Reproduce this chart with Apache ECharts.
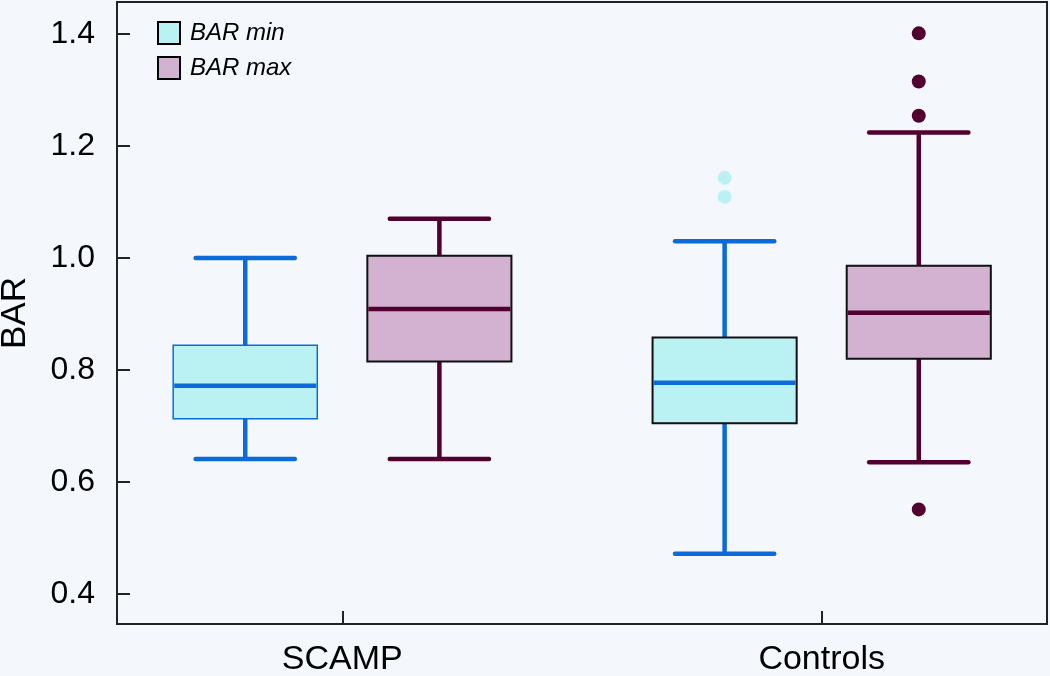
<!DOCTYPE html>
<html>
<head>
<meta charset="utf-8">
<script src="https://cdn.jsdelivr.net/npm/echarts@6/dist/echarts.min.js"></script>
<style>
html,body{margin:0;padding:0;background:#F4F7FB;}
#chart{width:1050px;height:676px;}
</style>
</head>
<body>
<div id="chart"></div>
<script>
// ---- data ----
const categories = ['SCAMP', 'Controls'];
const seriesNames = ['BAR min', 'BAR max'];
// [min, Q1, median, Q3, max] per category
const barMinBox = [[0.641, 0.713, 0.772, 0.844, 1.000], [0.472, 0.705, 0.777, 0.858, 1.030]];
const barMaxBox = [[0.641, 0.815, 0.909, 1.004, 1.070], [0.635, 0.820, 0.902, 0.986, 1.224]];
const barMinOutliers = [[], [1.143, 1.109]];
const barMaxOutliers = [[], [1.401, 1.315, 1.254, 0.551]];
const yTicks = [0.4, 0.6, 0.8, 1.0, 1.2, 1.4];

// ---- styles ----
const FONT = "'Liberation Sans', Arial, Helvetica, sans-serif";
const BLUE = '#0B6BD8';
const MAROON = '#51002F';
const CYAN = '#BAF2F4';
const PURPLE = '#D3B1D0';
const FRAME = '#222222';
const BOX_FRAC = 0.3006, CAP_HALF = 0.1035, OFFSET = 0.2025;

function boxRender(offset, lineColor, fill, borderColors, borderWidths) {
  return function (params, api) {
    const x = api.value(0);
    const unit = api.size([1, 0])[0];
    const base = api.coord([x, api.value(3)]);
    const cx = base[0] + offset * unit;
    const y = (i) => api.coord([x, api.value(i)])[1];
    const yMin = y(1), yQ1 = y(2), yMed = y(3), yQ3 = y(4), yMax = y(5);
    const hb = BOX_FRAC * unit / 2, hc = CAP_HALF * unit;
    const ls = { stroke: lineColor, lineWidth: 4.5, lineCap: 'butt' };
    const lc = { stroke: lineColor, lineWidth: 4.5, lineCap: 'round' };
    const idx = params.dataIndex;
    return {
      type: 'group',
      children: [
        { type: 'line', shape: { x1: cx, y1: yQ3, x2: cx, y2: yMax }, style: ls },
        { type: 'line', shape: { x1: cx - hc, y1: yMax, x2: cx + hc, y2: yMax }, style: lc },
        { type: 'line', shape: { x1: cx, y1: yQ1, x2: cx, y2: yMin }, style: ls },
        { type: 'line', shape: { x1: cx - hc, y1: yMin, x2: cx + hc, y2: yMin }, style: lc },
        { type: 'rect', shape: { x: cx - hb, y: yQ3, width: 2 * hb, height: yQ1 - yQ3 },
          style: { fill: fill, stroke: borderColors[idx], lineWidth: borderWidths[idx] } },
        { type: 'line', shape: { x1: cx - hb + 1, y1: yMed, x2: cx + hb - 1, y2: yMed }, style: ls }
      ]
    };
  };
}
function outlierRender(offset, color) {
  return function (params, api) {
    const x = api.value(0);
    const unit = api.size([1, 0])[0];
    const p = api.coord([x, api.value(1)]);
    return { type: 'circle', shape: { cx: p[0] + offset * unit, cy: p[1], r: 7 }, style: { fill: color } };
  };
}

const boxData = (arr) => arr.map((d, i) => [i + 1].concat(d));
const outData = (arr) => {
  const out = [];
  arr.forEach((vals, i) => vals.forEach(v => out.push([i + 1, v])));
  return out;
};

const chart = echarts.init(document.getElementById('chart'), null, { renderer: 'canvas' });
chart.setOption({
  backgroundColor: '#F4F7FB',
  animation: false,
  textStyle: { fontFamily: FONT },
  grid: { left: 117, right: 3, top: 2, bottom: 52, containLabel: false, outerBoundsMode: 'none',
    show: true, borderColor: FRAME, borderWidth: 2, backgroundColor: 'transparent' },
  legend: {
    orient: 'vertical', left: 157, top: 21, padding: 0, itemGap: 11,
    itemWidth: 22, itemHeight: 22, icon: 'rect', selectedMode: false,
    textStyle: { fontFamily: FONT, fontSize: 24, fontStyle: 'italic', color: '#000', padding: [0, 0, 0, 5] },
    data: [
      { name: seriesNames[0], itemStyle: { color: CYAN, borderColor: '#000', borderWidth: 2 } },
      { name: seriesNames[1], itemStyle: { color: PURPLE, borderColor: '#000', borderWidth: 2 } }
    ]
  },
  xAxis: {
    type: 'value', min: 0.53, max: 2.47,
    splitLine: { show: false },
    axisLine: { show: true, onZero: false, lineStyle: { color: FRAME, width: 2 } },
    axisTick: { show: true, inside: true, length: 13, customValues: [1, 2], lineStyle: { color: FRAME, width: 2 } },
    axisLabel: { customValues: [1, 2], formatter: (v) => categories[Math.round(v) - 1] || '', fontSize: 34, color: '#000', margin: 19, fontFamily: FONT }
  },
  yAxis: {
    type: 'value', min: 0.3464, max: 1.457,
    name: 'BAR', nameLocation: 'middle', nameGap: 84,
    nameTextStyle: { fontSize: 35, color: '#000', fontFamily: FONT },
    splitLine: { show: false },
    axisLine: { show: true, onZero: false, lineStyle: { color: FRAME, width: 2 } },
    axisTick: { show: true, inside: true, length: 13, customValues: yTicks, lineStyle: { color: FRAME, width: 2 } },
    axisLabel: { customValues: yTicks, formatter: (v) => v.toFixed(1), fontSize: 32, color: '#000', margin: 22, fontFamily: FONT }
  },
  series: [
    { name: seriesNames[0], type: 'custom', itemStyle: { color: CYAN },
      renderItem: boxRender(-OFFSET, BLUE, CYAN, [BLUE, '#111'], [1.5, 2]),
      encode: { x: 0, y: [1, 2, 3, 4, 5] }, data: boxData(barMinBox) },
    { name: seriesNames[1], type: 'custom', itemStyle: { color: PURPLE },
      renderItem: boxRender(OFFSET, MAROON, PURPLE, ['#111', '#111'], [2, 2]),
      encode: { x: 0, y: [1, 2, 3, 4, 5] }, data: boxData(barMaxBox) },
    { name: 'BAR min outliers', type: 'custom', renderItem: outlierRender(-OFFSET, CYAN),
      encode: { x: 0, y: 1 }, data: outData(barMinOutliers) },
    { name: 'BAR max outliers', type: 'custom', renderItem: outlierRender(OFFSET, MAROON),
      encode: { x: 0, y: 1 }, data: outData(barMaxOutliers) }
  ]
});
</script>
</body>
</html>
